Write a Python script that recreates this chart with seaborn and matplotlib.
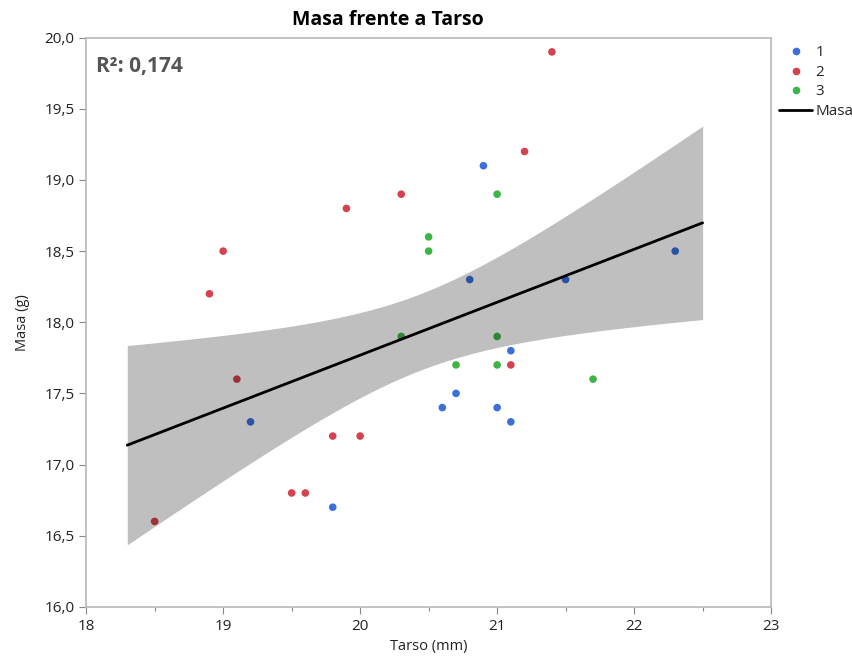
import numpy as np
import pandas as pd
import matplotlib
matplotlib.use("Agg")
import matplotlib.pyplot as plt
from matplotlib.lines import Line2D
from matplotlib.ticker import FuncFormatter, MultipleLocator
import seaborn as sns

# Tarso (mm) and Masa (g) per group
tarso_g1 = [19.2, 19.8, 20.6, 20.7, 20.8, 20.9, 21.0, 21.1, 21.1, 21.5, 22.3]
masa_g1 = [17.3, 16.7, 17.4, 17.5, 18.3, 19.1, 17.4, 17.8, 17.3, 18.3, 18.5]
tarso_g2 = [18.5, 18.9, 19.0, 19.1, 19.5, 19.6, 19.8, 19.9, 20.0, 20.3, 21.1, 21.2, 21.4]
masa_g2 = [16.6, 18.2, 18.5, 17.6, 16.8, 16.8, 17.2, 18.8, 17.2, 18.9, 17.7, 19.2, 19.9]
tarso_g3 = [20.3, 20.5, 20.5, 20.7, 21.0, 21.0, 21.0, 21.7]
masa_g3 = [17.9, 18.6, 18.5, 17.7, 18.9, 17.9, 17.7, 17.6]
groups = ["1", "2", "3"]
colors = ["#3a6fdc", "#d5414e", "#3cb546"]
fit_range = [18.3, 22.5]

df = pd.DataFrame({
    "Tarso": tarso_g1 + tarso_g2 + tarso_g3,
    "Masa": masa_g1 + masa_g2 + masa_g3,
    "Grupo": ["1"] * len(tarso_g1) + ["2"] * len(tarso_g2) + ["3"] * len(tarso_g3),
})

# Ordinary least squares fit with a 95 % confidence band for the mean
x = df["Tarso"].to_numpy()
y = df["Masa"].to_numpy()
n = len(x)
b1, b0 = np.polyfit(x, y, 1)
yhat = b0 + b1 * x
sse = np.sum((y - yhat) ** 2)
r2 = 1 - sse / np.sum((y - y.mean()) ** 2)
s = np.sqrt(sse / (n - 2))
sxx = np.sum((x - x.mean()) ** 2)
t = 2.0423  # t(0.975, df=30)
xs = np.linspace(fit_range[0], fit_range[1], 200)
ys = b0 + b1 * xs
half = t * s * np.sqrt(1 / n + (xs - x.mean()) ** 2 / sxx)
fit = pd.DataFrame({"Tarso": xs, "Masa": ys})

sns.set_theme(style="white")
plt.rcParams["font.family"] = ["Open Sans", "DejaVu Sans"]

fig = plt.figure(figsize=(8.53, 6.61), dpi=100)
ax = fig.add_axes([0.101, 0.082, 0.803, 0.861])

sns.scatterplot(data=df, x="Tarso", y="Masa", hue="Grupo", hue_order=groups,
                palette=colors, s=30, edgecolor="none", legend=False, ax=ax, zorder=2)
ax.fill_between(xs, ys - half, ys + half, color="black", alpha=0.25,
                linewidth=0, zorder=3)
sns.lineplot(data=fit, x="Tarso", y="Masa", color="black", linewidth=2,
             ax=ax, zorder=4)

ax.set_xlim(18, 23)
ax.set_ylim(16, 20)
ax.xaxis.set_major_locator(MultipleLocator(1))
ax.xaxis.set_minor_locator(MultipleLocator(0.5))
ax.yaxis.set_major_locator(MultipleLocator(0.5))
ax.yaxis.set_major_formatter(FuncFormatter(lambda v, p: f"{v:.1f}".replace(".", ",")))
ax.tick_params(axis="both", which="major", direction="out", length=5, width=0.8,
               color="#888888", labelsize=11, labelcolor="#222222", bottom=True, left=True)
ax.tick_params(axis="x", which="minor", direction="out", length=3, width=0.8,
               color="#888888", bottom=True)
for sp in ax.spines.values():
    sp.set_color("#b8b8b8")
    sp.set_linewidth(1.2)

ax.set_xlabel("Tarso (mm)", fontsize=10.5, color="#222222", labelpad=4)
ax.set_ylabel("Masa (g)", fontsize=10.5, color="#222222", labelpad=10)
fig.text(388 / 853, 1 - 20 / 661, "Masa frente a Tarso", fontsize=14,
         fontweight="bold", color="black", ha="center", va="center")

r2_txt = f"{r2:.3f}".replace(".", ",")
ax.text(0.014, 0.967, f"R²: {r2_txt}", transform=ax.transAxes, fontsize=15,
        fontweight="bold", color="#555555", va="top", ha="left")

handles = [Line2D([0], [0], marker="o", linestyle="none", markersize=5.5,
                  markerfacecolor=c, markeredgecolor="none") for c in colors]
handles.append(Line2D([0], [0], color="black", linewidth=2))
ax.legend(handles, groups + ["Masa"], loc="upper left", bbox_to_anchor=(1.0, 1.0),
          frameon=False, fontsize=11, handlelength=2.2, handletextpad=0.2,
          labelspacing=0.3, borderaxespad=0.3, borderpad=0.2)

fig.savefig("out.png", dpi=100)
